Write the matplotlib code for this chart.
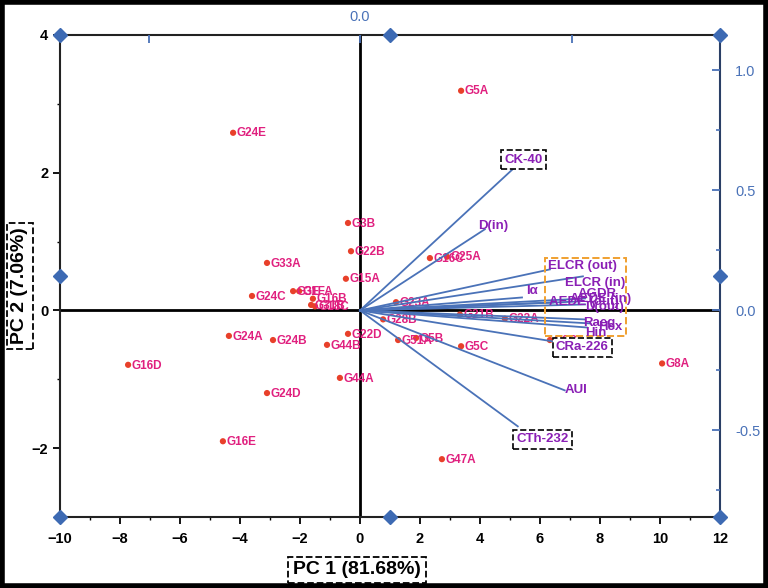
import matplotlib
matplotlib.use("Agg")
import matplotlib.pyplot as plt
from matplotlib.patches import Rectangle
from matplotlib.ticker import MultipleLocator

plt.rcParams['font.family'] = ['Liberation Sans', 'DejaVu Sans']

# ---- observations (scores) ----
obs_labels = ["G5A", "G24E", "G3B", "G22B", "G33A", "G15A", "G16C", "G25A",
              "G3E", "G1FA", "G24C", "G16B", "G31B", "G18C", "G24A", "G24B",
              "G44B", "G16D", "G24D", "G16E", "G44A", "G47A", "G22D", "G51A",
              "G28B", "G23A", "G5B", "G5C", "G21B", "G22A", "G8A", "G6C"]
obs_x = [3.37, -4.23, -0.40, -0.30, -3.10, -0.47, 2.33, 2.90,
         -2.23, -2.03, -3.60, -1.57, -1.63, -1.50, -4.37, -2.90,
         -1.10, -7.73, -3.10, -4.57, -0.67, 2.73, -0.40, 1.27,
         0.77, 1.20, 1.87, 3.37, 3.33, 4.83, 10.07, 6.33]
obs_y = [3.19, 2.58, 1.27, 0.86, 0.69, 0.46, 0.76, 0.78,
         0.28, 0.28, 0.21, 0.17, 0.08, 0.06, -0.37, -0.43,
         -0.50, -0.79, -1.20, -1.90, -0.98, -2.16, -0.34, -0.43,
         -0.13, 0.12, -0.40, -0.52, -0.06, -0.12, -0.77, -0.43]

# ---- variables (loadings) ----
var_labels = ["CK-40", "D(in)", "ELCR (out)", "ELCR (in)", "Iα", "AEDE (out)",
              "AEDE (in)", "AGDR", "D(out)", "Raeq", "Hex", "Hin",
              "CRa-226", "AUI", "CTh-232"]
var_x = [0.373, 0.295, 0.449, 0.527, 0.383, 0.456,
         0.520, 0.532, 0.532, 0.532, 0.543, 0.536,
         0.456, 0.484, 0.373]
var_y = [0.608, 0.338, 0.171, 0.142, 0.054, 0.033,
         0.0375, 0.050, 0.025, -0.0375, -0.054, -0.071,
         -0.129, -0.333, -0.483]

# label offsets (pixels) and alignment for vector labels
var_off = [(6, 5, 'center'), (8, 3, 'center'), (-2, 3, 'left'), (-18, -7, 'left'),
           (10, 6, 'center'), (-4, 1, 'left'), (-10, 2, 'left'), (-7, 4, 'left'),
           (0, -3, 'left'), (-2, -4, 'left'), (8, -4, 'left'), (-2, -6, 'left'),
           (3, -6, 'left'), (0, 0, 'left'), (-1, -13, 'left')]
boxed = {"CK-40", "CRa-226", "CTh-232"}

W, H = 768, 588
fig = plt.figure(figsize=(W / 100, H / 100), dpi=100)
pos = [60 / W, 1 - 517 / H, 660 / W, 482 / H]
ax = fig.add_axes(pos)
ax2 = fig.add_axes(pos, frameon=False)

blue = '#4a72b8'
red = '#e8402a'
mag = '#e0207f'
purple = '#8a1fb5'

ax.set_xlim(-10, 12)
ax.set_ylim(-3, 4)
ax.set_xticks(range(-10, 13, 2))
ax.set_yticks([-2, 0, 2, 4])
ax.xaxis.set_minor_locator(MultipleLocator(1))
ax.yaxis.set_minor_locator(MultipleLocator(1))
ax.tick_params(axis='both', which='major', labelsize=10.5, width=1.3, length=5, direction='out')
ax.tick_params(axis='both', which='minor', width=1.0, length=2.5, direction='out')
ax.tick_params(axis='x', which='major', pad=6)
for lab in ax.get_xticklabels() + ax.get_yticklabels():
    lab.set_fontweight('bold')
for s in ['left', 'bottom', 'top']:
    ax.spines[s].set_linewidth(1.5)
    ax.spines[s].set_color('#222222')
ax.spines['right'].set_linewidth(1.5)
ax.spines['right'].set_color('#2a3f66')

ax.axhline(0, color='black', lw=2, zorder=1)
ax.axvline(0, color='black', lw=2, zorder=1)

# secondary (loadings) axes
sx = 0.5 / 7.05
sy = 68.86 / 240
ax2.set_xlim(-10 * sx, 12 * sx)
ax2.set_ylim(-3 * sy, 4 * sy)
ax2.xaxis.tick_top()
ax2.yaxis.tick_right()
ax2.set_xticks([-0.5, 0.0, 0.5])
ax2.set_xticklabels(['', '0.0', ''])
ax2.set_yticks([-0.5, 0.0, 0.5, 1.0])
ax2.set_yticklabels(['-0.5', '0.0', '0.5', '1.0'])
ax2.yaxis.set_minor_locator(MultipleLocator(0.25))
ax2.tick_params(axis='both', which='major', colors=blue, labelsize=10.5, direction='in',
                length=6, width=1.3)
ax2.tick_params(axis='y', which='minor', colors=blue, direction='in', length=3, width=1.2)
ax2.tick_params(axis='x', which='major', pad=8)
ax2.tick_params(axis='y', which='major', pad=11)
for lab in ax2.get_xticklabels() + ax2.get_yticklabels():
    lab.set_color(blue)
ax2.patch.set_visible(False)

# vectors
for lbl, vx, vy, (ox, oy, ha) in zip(var_labels, var_x, var_y, var_off):
    ax2.plot([0, vx], [0, vy], color=blue, lw=1.3, zorder=2)
    bbox = None
    if lbl in boxed:
        bbox = dict(boxstyle='square,pad=0.25', fc='white', ec='black', ls='--', lw=1.2)
    ax2.annotate(lbl, (vx, vy), xytext=(ox * 0.72, oy * 0.72), textcoords='offset points',
                 ha=ha, va='center', color=purple, fontsize=9.5, fontweight='bold',
                 bbox=bbox, zorder=5)

# orange dashed box
ax2.add_patch(Rectangle((0.437, -0.108), 0.192, 0.325, fill=False, ec='#f0a030',
                        ls='--', lw=1.4, zorder=4, transform=ax2.transData))

# scores
ax.scatter(obs_x, obs_y, s=20, color=red, zorder=3, edgecolors='none')
for lbl, x, y in zip(obs_labels, obs_x, obs_y):
    ax.annotate(lbl, (x, y), xytext=(2.5, -0.5), textcoords='offset points',
                ha='left', va='center', color=mag, fontsize=8.5, fontweight='bold', zorder=4)

# diamond markers on the frame
dx = [0, 0.5, 1, 0, 1, 0, 0.5, 1]
dy = [1, 1, 1, 0.5, 0.5, 0, 0, 0]
ax.plot(dx, dy, 'D', color='#3d6ab3', ms=7, transform=ax.transAxes, clip_on=False, zorder=6)

# axis titles
dash_box = dict(boxstyle='square,pad=0.25', fc='white', ec='black', ls='--', lw=1.3)
fig.text(357 / W, 1 - 570 / H, 'PC 1 (81.68%)', ha='center', va='center',
         fontsize=14, fontweight='bold', bbox=dash_box)
fig.text(20 / W, 1 - 286 / H, 'PC 2 (7.06%)', ha='center', va='center', rotation=90,
         fontsize=14, fontweight='bold', bbox=dash_box)

# outer border
fig.patches.append(Rectangle((0.003, 0.004), 0.994, 0.992, transform=fig.transFigure,
                             fill=False, ec='black', lw=4))

fig.savefig('out.png', dpi=100)
